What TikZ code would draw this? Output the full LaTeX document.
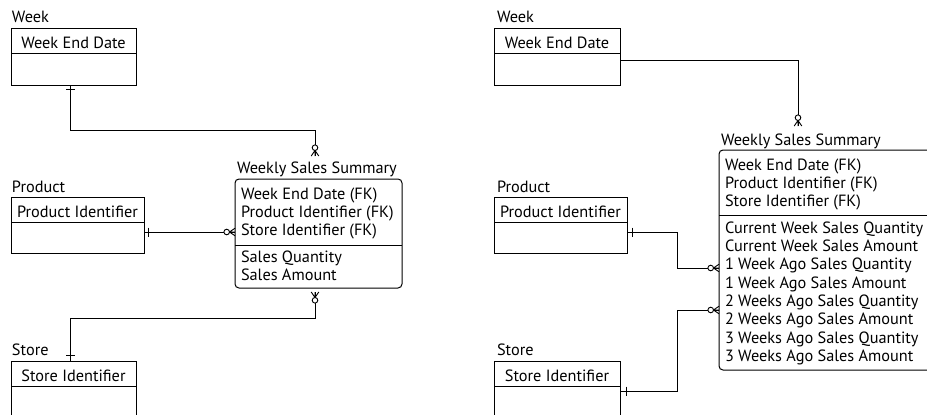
\documentclass[tikz,border=0pt]{standalone}
\usepackage{fontspec}
\setmainfont{PT Sans}
\begin{document}
\begin{tikzpicture}[x=1pt,y=-1pt,line width=1pt,
  every node/.style={inner sep=0pt,outer sep=0pt},
  txt/.style={anchor=base west,font=\fontsize{16.3}{18.3}\selectfont},
  hdr/.style={anchor=base,font=\fontsize{16.3}{18.3}\selectfont},
  entbox/.style={draw,anchor=north west,line width=1pt},
  sumbox/.style={draw,anchor=north west,rounded corners=4pt,line width=1pt},
  conn/.style={line width=1pt},
  onetick/.pic={\draw[line width=1pt] (0,-4.5) -- (0,4.5);},
  zeromany/.pic={
    \draw[line width=0.9pt] (-5.5,0) -- (0,-3.8) (-5.5,0) -- (0,3.8) (-5.5,0) -- (0,0);
    \draw[line width=0.9pt,fill=white] (-8.3,0) circle (2.8);}]
\useasboundingbox (0,0) rectangle (927,415);
\clip (0,0) rectangle (927,415);

% ---------------- left model ----------------
% Week
\node[txt] (wkLlbl) at (12,22) {Week};
\node[entbox,minimum width=125,minimum height=57] (wkL) at (11,28) {};
\draw ([yshift=-25pt]wkL.north west) -- ([yshift=-25pt]wkL.north east);
\node[hdr] (wkLhd) at ([yshift=-20pt]wkL.north) {Week End Date};

% Product
\node[txt] (prLlbl) at (12,192) {Product};
\node[entbox,minimum width=133,minimum height=56] (prL) at (11,197) {};
\draw ([yshift=-25pt]prL.north west) -- ([yshift=-25pt]prL.north east);
\node[hdr] (prLhd) at ([yshift=-20pt]prL.north) {Product Identifier};

% Store
\node[txt] (stLlbl) at (12,355) {Store};
\node[entbox,minimum width=125,minimum height=60] (stL) at (11,361) {};
\draw ([yshift=-25pt]stL.north west) -- ([yshift=-25pt]stL.north east);
\node[hdr] (stLhd) at ([yshift=-20pt]stL.north) {Store Identifier};

% Weekly Sales Summary
\node[txt] (wssLlbl) at (237,173) {Weekly Sales Summary};
\node[sumbox,minimum width=167,minimum height=109] (wssL) at (235,179) {};
\foreach \t [count=\i] in {Week End Date (FK),Product Identifier (FK),Store Identifier (FK)}
  \node[txt] (wssLk\i) at (241,{199.5+(\i-1)*18.2}) {\t};
\draw (wssL.west |- 0,245) -- (wssL.east |- 0,245);
\foreach \t [count=\i] in {Sales Quantity,Sales Amount}
  \node[txt] (wssLa\i) at (241,{262+(\i-1)*18.2}) {\t};

% relationships
\coordinate (wkLout) at ([xshift=-3pt]wkL.south);
\coordinate (wssLin) at ([xshift=-3.5pt,yshift=23pt]wssL.north);
\draw[conn] (wkLout) -- ++(0,45) -| (wssLin);
\pic[rotate=90] at ([yshift=-4pt]wkLout) {onetick};
\pic[rotate=-90] at (wssLin) {zeromany};

\coordinate (prLout) at ([yshift=-7pt]prL.east);
\coordinate (wssLinP) at (prLout -| wssL.west);
\draw[conn] (prLout) -- (wssLinP);
\pic at ([xshift=4pt]prLout) {onetick};
\pic at (wssLinP) {zeromany};

\coordinate (wssLout) at ([xshift=-3.5pt,yshift=-4pt]wssL.south);
\coordinate (stLin) at ([xshift=-3pt]stL.north);
\draw[conn] (wssLout) -- ++(0,26) -| (stLin);
\pic[rotate=90] at ([yshift=6pt]stLin) {onetick};
\pic[rotate=90] at (wssLout) {zeromany};

% ---------------- right model ----------------
% Week
\node[txt] (wkRlbl) at (497,22) {Week};
\node[entbox,minimum width=126,minimum height=57] (wkR) at (494,28) {};
\draw ([yshift=-25pt]wkR.north west) -- ([yshift=-25pt]wkR.north east);
\node[hdr] (wkRhd) at ([yshift=-20pt]wkR.north) {Week End Date};

% Product
\node[txt] (prRlbl) at (497,192) {Product};
\node[entbox,minimum width=133,minimum height=56] (prR) at (494,197) {};
\draw ([yshift=-25pt]prR.north west) -- ([yshift=-25pt]prR.north east);
\node[hdr] (prRhd) at ([yshift=-20pt]prR.north) {Product Identifier};

% Store
\node[txt] (stRlbl) at (497,355) {Store};
\node[entbox,minimum width=126,minimum height=58] (stR) at (494,361) {};
\draw ([yshift=-25pt]stR.north west) -- ([yshift=-25pt]stR.north east);
\node[hdr] (stRhd) at ([yshift=-20pt]stR.north) {Store Identifier};

% Weekly Sales Summary
\node[txt] (wssRlbl) at (721,145) {Weekly Sales Summary};
\node[sumbox,minimum width=240,minimum height=220] (wssR) at (719,150) {};
\foreach \t [count=\i] in {Week End Date (FK),Product Identifier (FK),Store Identifier (FK)}
  \node[txt] (wssRk\i) at (725,{170+(\i-1)*18.3}) {\t};
\draw (wssR.west |- 0,215) -- (wssR.east |- 0,215);
\foreach \t [count=\i] in {Current Week Sales Quantity,Current Week Sales Amount,
    1 Week Ago Sales Quantity,1 Week Ago Sales Amount,
    2 Weeks Ago Sales Quantity,2 Weeks Ago Sales Amount,
    3 Weeks Ago Sales Quantity,3 Weeks Ago Sales Amount}
  \node[txt] (wssRa\i) at (725,{233.3+(\i-1)*18.3}) {\t};

% relationships
\coordinate (wkRout) at ([yshift=-3.5pt]wkR.east);
\coordinate (wssRin) at ([xshift=79pt,yshift=24pt]wssR.north west);
\draw[conn] (wkRout) -| (wssRin);
\pic[rotate=-90] at (wssRin) {zeromany};

\coordinate (prRout) at ([yshift=-7pt]prR.east);
\coordinate (wssRinP) at ([yshift=-118pt]wssR.north west);
\draw[conn] (prRout) -- ++(50,0) |- (wssRinP);
\pic at ([xshift=5pt]prRout) {onetick};
\pic at (wssRinP) {zeromany};

\coordinate (stRout) at ([yshift=-1pt]stR.east);
\coordinate (wssRinS) at ([yshift=-160pt]wssR.north west);
\draw[conn] (stRout) -- ++(57,0) |- (wssRinS);
\pic at ([xshift=6pt]stRout) {onetick};
\pic at (wssRinS) {zeromany};
\end{tikzpicture}
\end{document}
